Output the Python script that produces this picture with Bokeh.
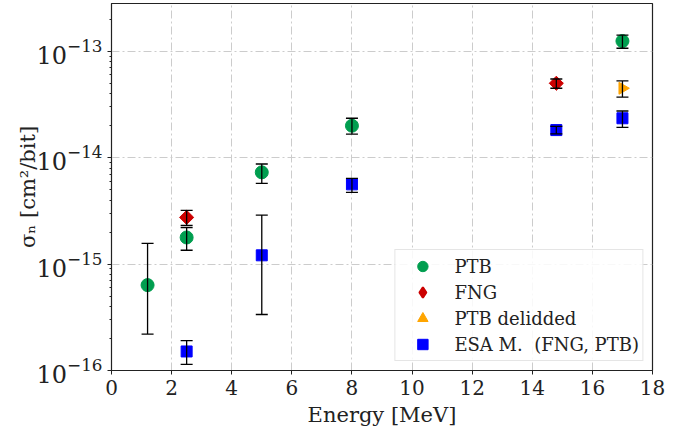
from bokeh.plotting import figure
from bokeh.models import ColumnDataSource, Whisker, Range1d, TeeHead, FixedTicker, LogTicker, LegendItem, Legend
from bokeh.embed import file_html
from bokeh.resources import INLINE

# ---- data ----
ptb_x = [1.2, 2.5, 5.0, 8.0, 17.0]
ptb_y = [6.35e-16, 1.78e-15, 7.29e-15, 2.0e-14, 1.25e-13]
ptb_lo = [2.2e-16, 1.35e-15, 5.74e-15, 1.67e-14, 1.07e-13]
ptb_hi = [1.57e-15, 2.21e-15, 8.73e-15, 2.35e-14, 1.42e-13]

fng_x = [2.5, 14.8]
fng_y = [2.75e-15, 5.01e-14]
fng_lo = [2.31e-15, 4.5e-14]
fng_hi = [3.2e-15, 5.5e-14]

del_x = [17.0]
del_y = [4.5e-14]
del_lo = [3.72e-14]
del_hi = [5.27e-14]

esa_x = [2.5, 5.0, 8.0, 14.8, 17.0]
esa_y = [1.51e-16, 1.21e-15, 5.62e-15, 1.82e-14, 2.35e-14]
esa_lo = [1.14e-16, 3.36e-16, 4.73e-15, 1.68e-14, 1.93e-14]
esa_hi = [1.91e-16, 2.89e-15, 6.4e-15, 1.97e-14, 2.75e-14]

x_ticks = [0, 2, 4, 6, 8, 10, 12, 14, 16, 18]

FONT = "DejaVu Serif"

p = figure(width=686, height=429, y_axis_type="log",
           x_range=Range1d(0, 18), y_range=Range1d(1e-16, 10 ** -12.55),
           output_backend="svg", toolbar_location=None,
           min_border_left=111, min_border_right=34, min_border_top=3, min_border_bottom=57)

p.outline_line_color = "#222222"
p.outline_line_width = 1.2
p.background_fill_color = "white"

for ax in (p.xaxis[0], p.yaxis[0]):
    ax.axis_line_color = "#222222"
    ax.major_tick_line_color = "#222222"
    ax.minor_tick_line_color = "#222222"
    ax.major_label_text_font = FONT
    ax.major_label_text_color = "#222222"
    ax.axis_label_text_font = FONT
    ax.axis_label_text_font_size = "21px"
    ax.axis_label_text_font_style = "normal"
    ax.axis_label_text_color = "#222222"
    ax.major_tick_out = 4
    ax.major_tick_in = 0
    ax.minor_tick_out = 2
    ax.minor_tick_in = 0

p.xaxis.major_label_text_font_size = "20px"
p.yaxis.major_label_text_font_size = "24px"
p.yaxis.axis_label_standoff = -6
p.xaxis.ticker = FixedTicker(ticks=x_ticks)
p.xaxis.minor_tick_line_color = None
p.yaxis.ticker = LogTicker(num_minor_ticks=10)

p.xaxis.axis_label = "Energy [MeV]"
p.yaxis.axis_label = "σₙ [cm²/bit]"

for g in (p.xgrid[0], p.ygrid[0]):
    g.grid_line_color = "#cccccc"
    g.grid_line_dash = "8 3 2 3"
    g.grid_line_width = 1

series = [
    ("PTB", ptb_x, ptb_y, ptb_lo, ptb_hi, "circle", "#009e4f", 13, 0.0, "circle"),
    ("FNG", fng_x, fng_y, fng_lo, fng_hi, "square", "#cc0000", 10, 0.7854, "diamond"),
    ("PTB delidded", del_x, del_y, del_lo, del_hi, "triangle", "#ffa500", 12, -1.5708, "triangle"),
    ("ESA M.  (FNG, PTB)", esa_x, esa_y, esa_lo, esa_hi, "square", "#0000ff", 11, 0.0, "square"),
]

items = []
for name, xs, ys, lo, hi, marker, color, size, ang, leg_marker in series:
    src = ColumnDataSource(dict(x=xs, y=ys, lo=lo, hi=hi, a=[ang] * len(xs)))
    w = Whisker(source=src, base="x", lower="lo", upper="hi", dimension="height",
                line_color="black", line_width=1.3, level="glyph",
                upper_head=TeeHead(size=12, line_color="black", line_width=1.3),
                lower_head=TeeHead(size=12, line_color="black", line_width=1.3))
    p.add_layout(w)
    r = p.scatter("x", "y", source=src, marker=marker, size=size, angle="a",
                  fill_color=color, line_color=color)
    if leg_marker != marker:
        # legend swatch only (zero-size in the plot)
        r = p.scatter("x", "y", source=src, marker=leg_marker, size=0,
                      fill_color=color, line_color=color, line_width=2)
    items.append(LegendItem(label=name, renderers=[r]))

lg = Legend(items=items)
p.add_layout(lg, "center")
lg.location = "bottom_right"
lg.margin = 9
lg.padding = 3
lg.spacing = 0
lg.glyph_width = 48
lg.glyph_height = 26
lg.label_height = 26
lg.label_standoff = 8
lg.label_text_font = FONT
lg.label_text_font_size = "18px"
lg.label_text_color = "#222222"
lg.border_line_color = "#cccccc"
lg.border_line_width = 1
lg.background_fill_alpha = 0.85

open("out.html", "w").write(file_html(p, INLINE))
